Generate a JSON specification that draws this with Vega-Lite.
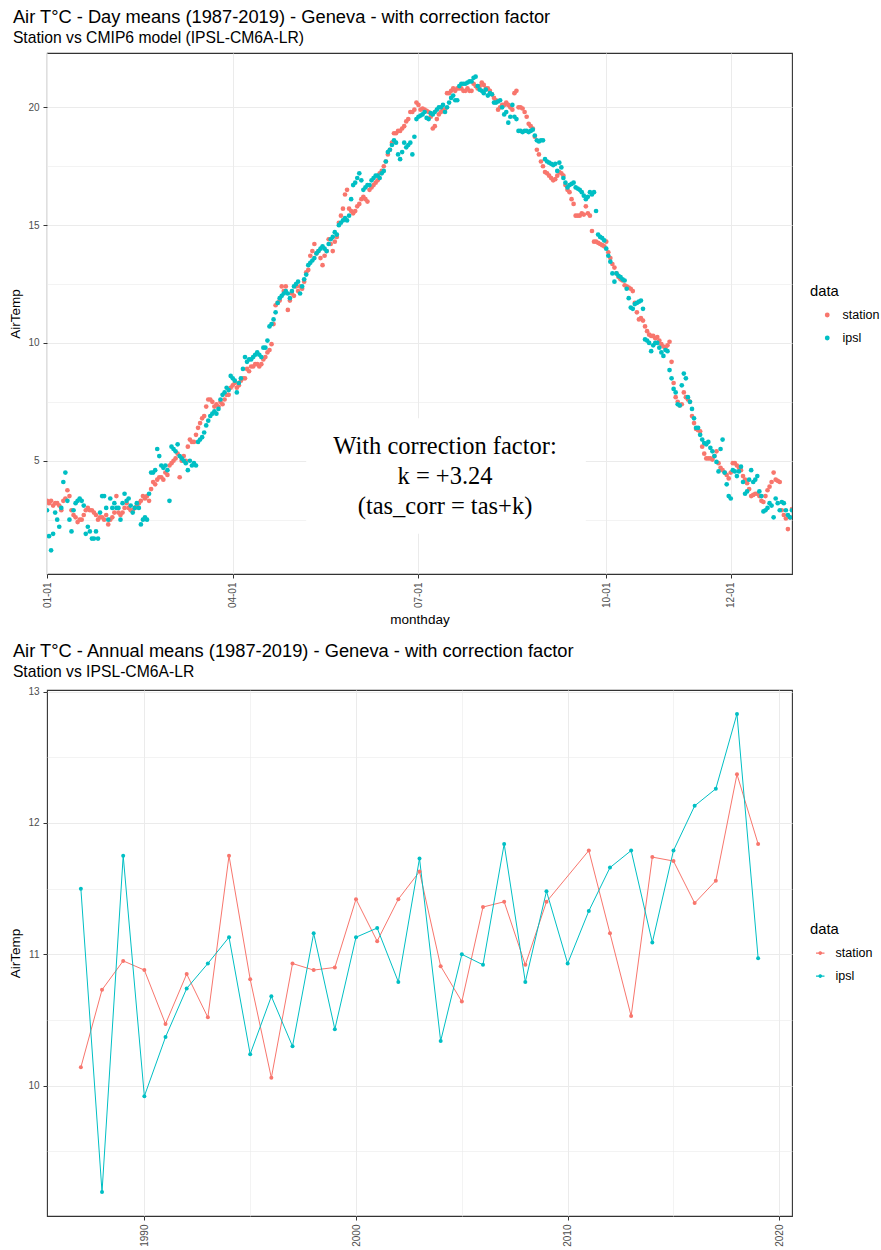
{
  "$schema": "https://vega.github.io/schema/vega-lite/v6.json",
  "background": "white",
  "padding": {"left": 8, "top": 7, "right": 5, "bottom": 5},
  "config": {
    "font": "Liberation Sans",
    "view": {"stroke": "#333333", "strokeWidth": 1.1},
    "axis": {"domain": false, "grid": true, "gridColor": "#EBEBEB", "tickColor": "#333333", "tickSize": 4, "tickWidth": 1, "labelColor": "#4D4D4D", "labelFontSize": 10, "labelPadding": 4, "titleFontSize": 13.5, "titleFontWeight": "normal", "titleColor": "#000000"},
    "title": {"anchor": "start", "frame": "bounds", "fontSize": 18.3, "fontWeight": "normal", "color": "#000000", "subtitleFontSize": 15.7, "subtitleColor": "#000000", "subtitlePadding": 4, "offset": 6, "dx": 4},
    "legend": {"titleFontSize": 14.8, "titleFontWeight": "normal", "titleColor": "#000000", "labelFontSize": 12.5, "labelColor": "#000000", "padding": 0, "rowPadding": 10, "titlePadding": 10},
    "concat": {"spacing": 14}
  },
  "resolve": {"legend": {"color": "independent"}},
  "datasets": {
    "daily": [
{"monthday":"2000-01-01","station":3.3,"ipsl":2.9},{"monthday":"2000-01-02","station":3.2,"ipsl":1.8},{"monthday":"2000-01-03","station":3.3,"ipsl":1.2},{"monthday":"2000-01-04","station":3.1,"ipsl":1.9},{"monthday":"2000-01-05","station":3.2,"ipsl":2.8},{"monthday":"2000-01-06","station":3.2,"ipsl":2.5},{"monthday":"2000-01-07","station":3.1,"ipsl":2.2},{"monthday":"2000-01-08","station":2.9,"ipsl":3.0},{"monthday":"2000-01-09","station":3.3,"ipsl":4.1},{"monthday":"2000-01-10","station":3.4,"ipsl":4.5},
{"monthday":"2000-01-11","station":3.75,"ipsl":3.3},{"monthday":"2000-01-12","station":3.5,"ipsl":2.5},{"monthday":"2000-01-13","station":2.9,"ipsl":2.0},{"monthday":"2000-01-14","station":2.7,"ipsl":2.9},{"monthday":"2000-01-15","station":2.6,"ipsl":3.2},{"monthday":"2000-01-16","station":2.4,"ipsl":3.3},{"monthday":"2000-01-17","station":2.5,"ipsl":3.4},{"monthday":"2000-01-18","station":2.5,"ipsl":3.3},{"monthday":"2000-01-19","station":2.7,"ipsl":3.1},{"monthday":"2000-01-20","station":2.9,"ipsl":1.9},
{"monthday":"2000-01-21","station":3.0,"ipsl":2.2},{"monthday":"2000-01-22","station":2.9,"ipsl":2.0},{"monthday":"2000-01-23","station":2.9,"ipsl":1.7},{"monthday":"2000-01-24","station":2.8,"ipsl":1.7},{"monthday":"2000-01-25","station":2.7,"ipsl":2.0},{"monthday":"2000-01-26","station":2.5,"ipsl":1.7},{"monthday":"2000-01-27","station":2.6,"ipsl":2.8},{"monthday":"2000-01-28","station":2.6,"ipsl":3.5},{"monthday":"2000-01-29","station":2.5,"ipsl":3.5},{"monthday":"2000-01-30","station":2.7,"ipsl":3.0},
{"monthday":"2000-01-31","station":2.3,"ipsl":2.5},
{"monthday":"2000-02-01","station":2.5,"ipsl":3.4},{"monthday":"2000-02-02","station":2.6,"ipsl":3.0},{"monthday":"2000-02-03","station":2.8,"ipsl":3.2},{"monthday":"2000-02-04","station":3.5,"ipsl":3.0},{"monthday":"2000-02-05","station":2.8,"ipsl":3.0},{"monthday":"2000-02-06","station":2.7,"ipsl":2.5},{"monthday":"2000-02-07","station":2.8,"ipsl":3.2},{"monthday":"2000-02-08","station":3.0,"ipsl":3.6},{"monthday":"2000-02-09","station":3.2,"ipsl":3.3},{"monthday":"2000-02-10","station":3.0,"ipsl":3.4},
{"monthday":"2000-02-11","station":2.9,"ipsl":3.1},{"monthday":"2000-02-12","station":2.9,"ipsl":2.8},{"monthday":"2000-02-13","station":3.0,"ipsl":3.0},{"monthday":"2000-02-14","station":3.1,"ipsl":3.2},{"monthday":"2000-02-15","station":3.2,"ipsl":3.0},{"monthday":"2000-02-16","station":3.3,"ipsl":2.3},{"monthday":"2000-02-17","station":3.5,"ipsl":2.5},{"monthday":"2000-02-18","station":3.4,"ipsl":2.6},{"monthday":"2000-02-19","station":3.5,"ipsl":2.5},{"monthday":"2000-02-20","station":3.3,"ipsl":3.6},
{"monthday":"2000-02-21","station":3.8,"ipsl":4.5},{"monthday":"2000-02-22","station":4.1,"ipsl":4.5},{"monthday":"2000-02-23","station":4.0,"ipsl":4.6},{"monthday":"2000-02-24","station":4.2,"ipsl":5.5},{"monthday":"2000-02-25","station":4.3,"ipsl":5.2},{"monthday":"2000-02-26","station":4.3,"ipsl":4.8},{"monthday":"2000-02-27","station":4.2,"ipsl":4.7},{"monthday":"2000-02-28","station":4.5,"ipsl":4.8},{"monthday":"2000-02-29","station":4.4,"ipsl":4.6},
{"monthday":"2000-03-01","station":4.8,"ipsl":3.3},{"monthday":"2000-03-02","station":4.9,"ipsl":5.6},{"monthday":"2000-03-03","station":5.0,"ipsl":5.5},{"monthday":"2000-03-04","station":5.1,"ipsl":5.4},{"monthday":"2000-03-05","station":5.3,"ipsl":5.7},{"monthday":"2000-03-06","station":4.3,"ipsl":5.2},{"monthday":"2000-03-07","station":5.0,"ipsl":5.1},{"monthday":"2000-03-08","station":5.2,"ipsl":5.0},{"monthday":"2000-03-09","station":5.0,"ipsl":4.9},{"monthday":"2000-03-10","station":5.6,"ipsl":4.6},
{"monthday":"2000-03-11","station":5.9,"ipsl":5.0},{"monthday":"2000-03-12","station":5.8,"ipsl":4.8},{"monthday":"2000-03-13","station":5.8,"ipsl":4.9},{"monthday":"2000-03-14","station":6.1,"ipsl":4.8},{"monthday":"2000-03-15","station":6.4,"ipsl":5.8},{"monthday":"2000-03-16","station":6.6,"ipsl":5.9},{"monthday":"2000-03-17","station":6.8,"ipsl":6.0},{"monthday":"2000-03-18","station":6.9,"ipsl":6.2},{"monthday":"2000-03-19","station":7.3,"ipsl":6.5},{"monthday":"2000-03-20","station":7.6,"ipsl":6.7},
{"monthday":"2000-03-21","station":7.6,"ipsl":6.9},{"monthday":"2000-03-22","station":7.5,"ipsl":7.0},{"monthday":"2000-03-23","station":7.3,"ipsl":7.1},{"monthday":"2000-03-24","station":7.4,"ipsl":7.0},{"monthday":"2000-03-25","station":7.3,"ipsl":7.2},{"monthday":"2000-03-26","station":7.5,"ipsl":7.6},{"monthday":"2000-03-27","station":7.4,"ipsl":7.8},{"monthday":"2000-03-28","station":7.6,"ipsl":7.9},{"monthday":"2000-03-29","station":7.8,"ipsl":8.1},{"monthday":"2000-03-30","station":7.8,"ipsl":8.0},
{"monthday":"2000-03-31","station":8.1,"ipsl":8.6},
{"monthday":"2000-04-01","station":8.2,"ipsl":8.5},{"monthday":"2000-04-02","station":8.3,"ipsl":8.4},{"monthday":"2000-04-03","station":8.1,"ipsl":7.9},{"monthday":"2000-04-04","station":8.2,"ipsl":8.3},{"monthday":"2000-04-05","station":8.4,"ipsl":8.5},{"monthday":"2000-04-06","station":8.5,"ipsl":8.9},{"monthday":"2000-04-07","station":8.5,"ipsl":9.4},{"monthday":"2000-04-08","station":8.9,"ipsl":9.2},{"monthday":"2000-04-09","station":8.8,"ipsl":9.3},{"monthday":"2000-04-10","station":9.0,"ipsl":9.3},
{"monthday":"2000-04-11","station":9.0,"ipsl":9.4},{"monthday":"2000-04-12","station":9.1,"ipsl":9.5},{"monthday":"2000-04-13","station":9.1,"ipsl":9.6},{"monthday":"2000-04-14","station":9.0,"ipsl":9.5},{"monthday":"2000-04-15","station":9.1,"ipsl":9.4},{"monthday":"2000-04-16","station":9.3,"ipsl":9.8},{"monthday":"2000-04-17","station":9.4,"ipsl":9.8},{"monthday":"2000-04-18","station":9.6,"ipsl":10.1},{"monthday":"2000-04-19","station":9.7,"ipsl":10.7},{"monthday":"2000-04-20","station":9.95,"ipsl":10.8},
{"monthday":"2000-04-21","station":10.8,"ipsl":11.0},{"monthday":"2000-04-22","station":11.6,"ipsl":11.3},{"monthday":"2000-04-23","station":11.7,"ipsl":11.7},{"monthday":"2000-04-24","station":11.8,"ipsl":11.9},{"monthday":"2000-04-25","station":12.4,"ipsl":12.0},{"monthday":"2000-04-26","station":12.2,"ipsl":12.1},{"monthday":"2000-04-27","station":12.4,"ipsl":12.2},{"monthday":"2000-04-28","station":11.4,"ipsl":12.1},{"monthday":"2000-04-29","station":11.8,"ipsl":11.9},{"monthday":"2000-04-30","station":12.1,"ipsl":12.2},
{"monthday":"2000-05-01","station":12.0,"ipsl":12.4},{"monthday":"2000-05-02","station":12.4,"ipsl":12.5},{"monthday":"2000-05-03","station":12.2,"ipsl":12.6},{"monthday":"2000-05-04","station":12.4,"ipsl":12.1},{"monthday":"2000-05-05","station":12.3,"ipsl":12.4},{"monthday":"2000-05-06","station":12.6,"ipsl":12.7},{"monthday":"2000-05-07","station":13.0,"ipsl":12.9},{"monthday":"2000-05-08","station":13.1,"ipsl":13.3},{"monthday":"2000-05-09","station":13.7,"ipsl":13.4},{"monthday":"2000-05-10","station":13.9,"ipsl":13.5},
{"monthday":"2000-05-11","station":14.2,"ipsl":13.6},{"monthday":"2000-05-12","station":13.8,"ipsl":13.8},{"monthday":"2000-05-13","station":13.9,"ipsl":13.9},{"monthday":"2000-05-14","station":13.6,"ipsl":14.0},{"monthday":"2000-05-15","station":13.3,"ipsl":14.1},{"monthday":"2000-05-16","station":13.7,"ipsl":14.0},{"monthday":"2000-05-17","station":13.9,"ipsl":13.9},{"monthday":"2000-05-18","station":14.4,"ipsl":14.2},{"monthday":"2000-05-19","station":14.2,"ipsl":14.4},{"monthday":"2000-05-20","station":13.9,"ipsl":14.5},
{"monthday":"2000-05-21","station":14.3,"ipsl":14.7},{"monthday":"2000-05-22","station":14.5,"ipsl":14.6},{"monthday":"2000-05-23","station":15.1,"ipsl":15.0},{"monthday":"2000-05-24","station":15.4,"ipsl":15.1},{"monthday":"2000-05-25","station":15.7,"ipsl":15.2},{"monthday":"2000-05-26","station":16.3,"ipsl":15.3},{"monthday":"2000-05-27","station":16.5,"ipsl":15.2},{"monthday":"2000-05-28","station":15.7,"ipsl":15.4},{"monthday":"2000-05-29","station":15.6,"ipsl":16.1},{"monthday":"2000-05-30","station":15.5,"ipsl":16.7},
{"monthday":"2000-05-31","station":15.6,"ipsl":16.8},
{"monthday":"2000-06-01","station":15.8,"ipsl":17.0},{"monthday":"2000-06-02","station":15.9,"ipsl":17.2},{"monthday":"2000-06-03","station":16.1,"ipsl":16.9},{"monthday":"2000-06-04","station":16.2,"ipsl":16.5},{"monthday":"2000-06-05","station":16.1,"ipsl":16.6},{"monthday":"2000-06-06","station":16.0,"ipsl":16.7},{"monthday":"2000-06-07","station":16.5,"ipsl":16.7},{"monthday":"2000-06-08","station":16.6,"ipsl":16.9},{"monthday":"2000-06-09","station":16.7,"ipsl":17.0},{"monthday":"2000-06-10","station":16.8,"ipsl":17.1},
{"monthday":"2000-06-11","station":16.9,"ipsl":17.1},{"monthday":"2000-06-12","station":17.2,"ipsl":17.0},{"monthday":"2000-06-13","station":17.3,"ipsl":17.2},{"monthday":"2000-06-14","station":17.5,"ipsl":17.3},{"monthday":"2000-06-15","station":17.7,"ipsl":17.7},{"monthday":"2000-06-16","station":18.0,"ipsl":18.1},{"monthday":"2000-06-17","station":18.2,"ipsl":18.2},{"monthday":"2000-06-18","station":18.5,"ipsl":18.4},{"monthday":"2000-06-19","station":18.9,"ipsl":18.6},{"monthday":"2000-06-20","station":18.9,"ipsl":18.5},
{"monthday":"2000-06-21","station":19.0,"ipsl":18.0},{"monthday":"2000-06-22","station":19.0,"ipsl":17.8},{"monthday":"2000-06-23","station":19.1,"ipsl":18.1},{"monthday":"2000-06-24","station":19.2,"ipsl":18.5},{"monthday":"2000-06-25","station":19.4,"ipsl":18.3},{"monthday":"2000-06-26","station":19.5,"ipsl":18.4},{"monthday":"2000-06-27","station":19.8,"ipsl":18.5},{"monthday":"2000-06-28","station":19.8,"ipsl":18.0},{"monthday":"2000-06-29","station":19.9,"ipsl":18.75},{"monthday":"2000-06-30","station":20.2,"ipsl":19.5},
{"monthday":"2000-07-01","station":20.1,"ipsl":19.6},{"monthday":"2000-07-02","station":19.9,"ipsl":19.65},{"monthday":"2000-07-03","station":19.95,"ipsl":19.7},{"monthday":"2000-07-04","station":19.9,"ipsl":19.8},{"monthday":"2000-07-05","station":19.85,"ipsl":19.55},{"monthday":"2000-07-06","station":19.8,"ipsl":19.5},{"monthday":"2000-07-07","station":19.6,"ipsl":19.75},{"monthday":"2000-07-08","station":19.1,"ipsl":19.7},{"monthday":"2000-07-09","station":19.2,"ipsl":19.8},{"monthday":"2000-07-10","station":19.5,"ipsl":19.9},
{"monthday":"2000-07-11","station":19.7,"ipsl":20.0},{"monthday":"2000-07-12","station":19.8,"ipsl":20.0},{"monthday":"2000-07-13","station":19.9,"ipsl":20.1},{"monthday":"2000-07-14","station":19.9,"ipsl":19.8},{"monthday":"2000-07-15","station":20.6,"ipsl":20.0},{"monthday":"2000-07-16","station":20.6,"ipsl":20.2},{"monthday":"2000-07-17","station":20.7,"ipsl":20.4},{"monthday":"2000-07-18","station":20.8,"ipsl":20.5},{"monthday":"2000-07-19","station":20.7,"ipsl":20.3},{"monthday":"2000-07-20","station":20.8,"ipsl":20.3},
{"monthday":"2000-07-21","station":20.8,"ipsl":20.9},{"monthday":"2000-07-22","station":20.8,"ipsl":21.0},{"monthday":"2000-07-23","station":20.7,"ipsl":21.0},{"monthday":"2000-07-24","station":20.7,"ipsl":21.0},{"monthday":"2000-07-25","station":20.8,"ipsl":21.05},{"monthday":"2000-07-26","station":20.7,"ipsl":21.1},{"monthday":"2000-07-27","station":20.7,"ipsl":21.1},{"monthday":"2000-07-28","station":21.0,"ipsl":21.25},{"monthday":"2000-07-29","station":20.9,"ipsl":21.3},{"monthday":"2000-07-30","station":20.8,"ipsl":20.9},
{"monthday":"2000-07-31","station":20.9,"ipsl":20.75},
{"monthday":"2000-08-01","station":21.05,"ipsl":20.7},{"monthday":"2000-08-02","station":20.95,"ipsl":20.6},{"monthday":"2000-08-03","station":20.8,"ipsl":20.75},{"monthday":"2000-08-04","station":20.8,"ipsl":20.5},{"monthday":"2000-08-05","station":20.7,"ipsl":20.6},{"monthday":"2000-08-06","station":20.55,"ipsl":20.55},{"monthday":"2000-08-07","station":20.4,"ipsl":20.2},{"monthday":"2000-08-08","station":20.3,"ipsl":20.2},{"monthday":"2000-08-09","station":19.9,"ipsl":20.25},{"monthday":"2000-08-10","station":20.0,"ipsl":20.3},
{"monthday":"2000-08-11","station":20.1,"ipsl":20.0},{"monthday":"2000-08-12","station":20.1,"ipsl":19.7},{"monthday":"2000-08-13","station":20.2,"ipsl":19.8},{"monthday":"2000-08-14","station":20.1,"ipsl":19.35},{"monthday":"2000-08-15","station":20.0,"ipsl":19.6},{"monthday":"2000-08-16","station":19.9,"ipsl":20.1},{"monthday":"2000-08-17","station":20.6,"ipsl":19.6},{"monthday":"2000-08-18","station":20.7,"ipsl":19.5},{"monthday":"2000-08-19","station":20.0,"ipsl":19.0},{"monthday":"2000-08-20","station":20.0,"ipsl":19.0},
{"monthday":"2000-08-21","station":19.95,"ipsl":18.95},{"monthday":"2000-08-22","station":19.8,"ipsl":19.0},{"monthday":"2000-08-23","station":19.6,"ipsl":19.0},{"monthday":"2000-08-24","station":19.3,"ipsl":18.95},{"monthday":"2000-08-25","station":19.2,"ipsl":19.0},{"monthday":"2000-08-26","station":19.1,"ipsl":19.05},{"monthday":"2000-08-27","station":18.75,"ipsl":18.8},{"monthday":"2000-08-28","station":18.2,"ipsl":18.6},{"monthday":"2000-08-29","station":18.0,"ipsl":18.55},{"monthday":"2000-08-30","station":17.7,"ipsl":18.6},
{"monthday":"2000-08-31","station":17.5,"ipsl":18.6},
{"monthday":"2000-09-01","station":17.25,"ipsl":17.8},{"monthday":"2000-09-02","station":17.2,"ipsl":17.7},{"monthday":"2000-09-03","station":17.1,"ipsl":17.65},{"monthday":"2000-09-04","station":17.0,"ipsl":17.6},{"monthday":"2000-09-05","station":16.9,"ipsl":17.55},{"monthday":"2000-09-06","station":16.95,"ipsl":17.6},{"monthday":"2000-09-07","station":17.1,"ipsl":17.3},{"monthday":"2000-09-08","station":17.25,"ipsl":17.65},{"monthday":"2000-09-09","station":17.2,"ipsl":17.45},{"monthday":"2000-09-10","station":17.1,"ipsl":17.0},
{"monthday":"2000-09-11","station":16.7,"ipsl":16.8},{"monthday":"2000-09-12","station":16.5,"ipsl":16.6},{"monthday":"2000-09-13","station":16.4,"ipsl":16.7},{"monthday":"2000-09-14","station":16.1,"ipsl":16.75},{"monthday":"2000-09-15","station":15.9,"ipsl":16.8},{"monthday":"2000-09-16","station":15.4,"ipsl":16.6},{"monthday":"2000-09-17","station":15.4,"ipsl":16.55},{"monthday":"2000-09-18","station":15.4,"ipsl":16.5},{"monthday":"2000-09-19","station":15.5,"ipsl":16.4},{"monthday":"2000-09-20","station":15.45,"ipsl":16.25},
{"monthday":"2000-09-21","station":15.8,"ipsl":16.1},{"monthday":"2000-09-22","station":15.5,"ipsl":16.2},{"monthday":"2000-09-23","station":15.4,"ipsl":16.4},{"monthday":"2000-09-24","station":14.75,"ipsl":16.3},{"monthday":"2000-09-25","station":14.3,"ipsl":16.4},{"monthday":"2000-09-26","station":14.3,"ipsl":15.6},{"monthday":"2000-09-27","station":14.25,"ipsl":14.6},{"monthday":"2000-09-28","station":14.2,"ipsl":14.5},{"monthday":"2000-09-29","station":14.15,"ipsl":14.45},{"monthday":"2000-09-30","station":14.1,"ipsl":14.35},
{"monthday":"2000-10-01","station":14.3,"ipsl":14.0},{"monthday":"2000-10-02","station":13.85,"ipsl":13.7},{"monthday":"2000-10-03","station":13.6,"ipsl":13.45},{"monthday":"2000-10-04","station":13.35,"ipsl":12.95},{"monthday":"2000-10-05","station":13.2,"ipsl":12.6},{"monthday":"2000-10-06","station":12.95,"ipsl":12.95},{"monthday":"2000-10-07","station":12.8,"ipsl":12.85},{"monthday":"2000-10-08","station":12.7,"ipsl":12.8},{"monthday":"2000-10-09","station":12.65,"ipsl":12.7},{"monthday":"2000-10-10","station":12.45,"ipsl":12.65},
{"monthday":"2000-10-11","station":12.4,"ipsl":12.3},{"monthday":"2000-10-12","station":12.35,"ipsl":11.9},{"monthday":"2000-10-13","station":12.3,"ipsl":11.5},{"monthday":"2000-10-14","station":12.2,"ipsl":11.45},{"monthday":"2000-10-15","station":11.7,"ipsl":11.65},{"monthday":"2000-10-16","station":11.3,"ipsl":11.7},{"monthday":"2000-10-17","station":11.0,"ipsl":11.75},{"monthday":"2000-10-18","station":11.05,"ipsl":11.8},{"monthday":"2000-10-19","station":10.95,"ipsl":11.45},{"monthday":"2000-10-20","station":10.7,"ipsl":10.15},
{"monthday":"2000-10-21","station":10.5,"ipsl":10.1},{"monthday":"2000-10-22","station":10.35,"ipsl":10.0},{"monthday":"2000-10-23","station":10.3,"ipsl":9.65},{"monthday":"2000-10-24","station":10.3,"ipsl":9.9},{"monthday":"2000-10-25","station":10.2,"ipsl":10.0},{"monthday":"2000-10-26","station":10.25,"ipsl":10.0},{"monthday":"2000-10-27","station":10.1,"ipsl":9.8},{"monthday":"2000-10-28","station":9.95,"ipsl":9.6},{"monthday":"2000-10-29","station":9.85,"ipsl":9.45},{"monthday":"2000-10-30","station":9.8,"ipsl":9.7},
{"monthday":"2000-10-31","station":9.9,"ipsl":9.65},
{"monthday":"2000-11-01","station":10.05,"ipsl":8.85},{"monthday":"2000-11-02","station":9.2,"ipsl":8.5},{"monthday":"2000-11-03","station":8.3,"ipsl":8.05},{"monthday":"2000-11-04","station":7.7,"ipsl":7.9},{"monthday":"2000-11-05","station":7.5,"ipsl":7.4},{"monthday":"2000-11-06","station":7.35,"ipsl":7.35},{"monthday":"2000-11-07","station":7.4,"ipsl":8.2},{"monthday":"2000-11-08","station":7.9,"ipsl":8.7},{"monthday":"2000-11-09","station":7.7,"ipsl":8.5},{"monthday":"2000-11-10","station":7.6,"ipsl":7.7},
{"monthday":"2000-11-11","station":7.5,"ipsl":7.5},{"monthday":"2000-11-12","station":6.9,"ipsl":7.2},{"monthday":"2000-11-13","station":6.6,"ipsl":6.8},{"monthday":"2000-11-14","station":6.35,"ipsl":6.4},{"monthday":"2000-11-15","station":6.3,"ipsl":6.4},{"monthday":"2000-11-16","station":6.25,"ipsl":6.1},{"monthday":"2000-11-17","station":5.6,"ipsl":5.9},{"monthday":"2000-11-18","station":5.3,"ipsl":5.75},{"monthday":"2000-11-19","station":5.1,"ipsl":5.7},{"monthday":"2000-11-20","station":5.1,"ipsl":5.8},
{"monthday":"2000-11-21","station":5.1,"ipsl":5.55},{"monthday":"2000-11-22","station":5.05,"ipsl":5.4},{"monthday":"2000-11-23","station":5.2,"ipsl":5.2},{"monthday":"2000-11-24","station":5.4,"ipsl":4.95},{"monthday":"2000-11-25","station":4.9,"ipsl":4.55},{"monthday":"2000-11-26","station":4.7,"ipsl":5.5},{"monthday":"2000-11-27","station":4.6,"ipsl":5.9},{"monthday":"2000-11-28","station":4.5,"ipsl":4.5},{"monthday":"2000-11-29","station":4.4,"ipsl":4.0},{"monthday":"2000-11-30","station":4.25,"ipsl":3.5},
{"monthday":"2000-12-01","station":4.5,"ipsl":3.4},{"monthday":"2000-12-02","station":4.9,"ipsl":4.6},{"monthday":"2000-12-03","station":4.9,"ipsl":4.55},{"monthday":"2000-12-04","station":4.8,"ipsl":4.35},{"monthday":"2000-12-05","station":4.7,"ipsl":4.55},{"monthday":"2000-12-06","station":4.6,"ipsl":4.75},{"monthday":"2000-12-07","station":4.35,"ipsl":4.1},{"monthday":"2000-12-08","station":4.2,"ipsl":3.6},{"monthday":"2000-12-09","station":4.05,"ipsl":3.7},{"monthday":"2000-12-10","station":3.8,"ipsl":4.2},
{"monthday":"2000-12-11","station":3.5,"ipsl":4.6},{"monthday":"2000-12-12","station":3.55,"ipsl":4.1},{"monthday":"2000-12-13","station":3.6,"ipsl":4.2},{"monthday":"2000-12-14","station":3.6,"ipsl":4.35},{"monthday":"2000-12-15","station":3.5,"ipsl":3.7},{"monthday":"2000-12-16","station":3.3,"ipsl":3.5},{"monthday":"2000-12-17","station":3.25,"ipsl":2.85},{"monthday":"2000-12-18","station":3.5,"ipsl":2.9},{"monthday":"2000-12-19","station":3.75,"ipsl":3.0},{"monthday":"2000-12-20","station":3.9,"ipsl":3.2},
{"monthday":"2000-12-21","station":4.1,"ipsl":3.1},{"monthday":"2000-12-22","station":4.5,"ipsl":2.6},{"monthday":"2000-12-23","station":4.2,"ipsl":3.4},{"monthday":"2000-12-24","station":4.15,"ipsl":3.2},{"monthday":"2000-12-25","station":4.1,"ipsl":2.9},{"monthday":"2000-12-26","station":2.9,"ipsl":3.25},{"monthday":"2000-12-27","station":2.7,"ipsl":3.2},{"monthday":"2000-12-28","station":2.55,"ipsl":2.9},{"monthday":"2000-12-29","station":2.1,"ipsl":2.7},{"monthday":"2000-12-30","station":2.6,"ipsl":2.6},
{"monthday":"2000-12-31","station":2.95,"ipsl":2.9}
    ],
    "annual": [
      {"year":1987,"station":10.14,"ipsl":11.50},{"year":1988,"station":10.73,"ipsl":9.19},{"year":1989,"station":10.95,"ipsl":11.75},{"year":1990,"station":10.88,"ipsl":9.92},
      {"year":1991,"station":10.47,"ipsl":10.37},{"year":1992,"station":10.85,"ipsl":10.74},{"year":1993,"station":10.52,"ipsl":10.93},{"year":1994,"station":11.75,"ipsl":11.13},
      {"year":1995,"station":10.81,"ipsl":10.24},{"year":1996,"station":10.06,"ipsl":10.68},{"year":1997,"station":10.93,"ipsl":10.30},{"year":1998,"station":10.88,"ipsl":11.16},
      {"year":1999,"station":10.90,"ipsl":10.43},{"year":2000,"station":11.42,"ipsl":11.13},{"year":2001,"station":11.10,"ipsl":11.20},{"year":2002,"station":11.42,"ipsl":10.79},
      {"year":2003,"station":11.63,"ipsl":11.73},{"year":2004,"station":10.91,"ipsl":10.34},{"year":2005,"station":10.64,"ipsl":11.00},{"year":2006,"station":11.36,"ipsl":10.92},
      {"year":2007,"station":11.40,"ipsl":11.84},{"year":2008,"station":10.92,"ipsl":10.79},{"year":2009,"station":11.40,"ipsl":11.48},{"year":2010,"ipsl":10.93},
      {"year":2011,"station":11.79,"ipsl":11.33},{"year":2012,"station":11.16,"ipsl":11.66},{"year":2013,"station":10.53,"ipsl":11.79},{"year":2014,"station":11.74,"ipsl":11.09},
      {"year":2015,"station":11.71,"ipsl":11.79},{"year":2016,"station":11.39,"ipsl":12.13},{"year":2017,"station":11.56,"ipsl":12.26},{"year":2018,"station":12.37,"ipsl":12.83},
      {"year":2019,"station":11.84,"ipsl":10.97}
    ]
  },
  "vconcat": [
    {
      "title": {"text": "Air T°C - Day means (1987-2019) - Geneva - with correction factor", "subtitle": "Station vs CMIP6 model (IPSL-CM6A-LR)"},
      "width": 745,
      "height": 521,
      "layer": [
        {
          "data": {"name": "daily"},
          "transform": [{"fold": ["station", "ipsl"], "as": ["data", "AirTemp"]}, {"filter": {"field": "data", "equal": "station"}}],
          "mark": {"type": "point", "filled": true, "size": 22, "opacity": 1, "clip": true},
          "encoding": {
            "x": {"field": "monthday", "type": "temporal", "title": "monthday",
              "scale": {"type": "utc", "domain": [{"year": 2000, "month": 1, "date": 1, "utc": true}, {"year": 2000, "month": 12, "date": 31, "utc": true}]},
              "axis": {"values": [{"year": 2000, "month": 1, "date": 1, "utc": true}, {"year": 2000, "month": 4, "date": 1, "utc": true}, {"year": 2000, "month": 7, "date": 1, "utc": true}, {"year": 2000, "month": 10, "date": 1, "utc": true}, {"year": 2000, "month": 12, "date": 1, "utc": true}], "labelExpr": "utcFormat(datum.value, '%m-%d')", "labelAngle": 270, "gridWidth": 1, "titlePadding": 5}},
            "y": {"field": "AirTemp", "type": "quantitative", "title": "AirTemp",
              "scale": {"domain": [0.195, 22.305], "nice": false, "zero": false},
              "axis": {"values": [2.5, 5, 7.5, 10, 12.5, 15, 17.5, 20], "labelExpr": "datum.value % 5 === 0 ? format(datum.value, 'd') : ''",
                "gridWidth": {"condition": {"test": "datum.value % 5 === 0", "value": 1}, "value": 0.6},
                "tickOpacity": {"condition": {"test": "datum.value % 5 === 0", "value": 1}, "value": 0}, "titlePadding": 5}},
            "color": {"field": "data", "type": "nominal", "scale": {"domain": ["station", "ipsl"], "range": ["#F8766D", "#00BFC4"]},
              "legend": {"title": "data", "orient": "none", "legendX": 763, "legendY": 231, "symbolType": "circle", "symbolSize": 24, "symbolOffset": 11, "labelOffset": 9}}
          }
        },
        {
          "data": {"name": "daily"},
          "transform": [{"fold": ["station", "ipsl"], "as": ["data", "AirTemp"]}, {"filter": {"field": "data", "equal": "ipsl"}}],
          "mark": {"type": "point", "filled": true, "size": 22, "opacity": 1, "clip": true},
          "encoding": {
            "x": {"field": "monthday", "type": "temporal", "title": "monthday",
              "scale": {"type": "utc", "domain": [{"year": 2000, "month": 1, "date": 1, "utc": true}, {"year": 2000, "month": 12, "date": 31, "utc": true}]},
              "axis": {"values": [{"year": 2000, "month": 1, "date": 1, "utc": true}, {"year": 2000, "month": 4, "date": 1, "utc": true}, {"year": 2000, "month": 7, "date": 1, "utc": true}, {"year": 2000, "month": 10, "date": 1, "utc": true}, {"year": 2000, "month": 12, "date": 1, "utc": true}], "labelExpr": "utcFormat(datum.value, '%m-%d')", "labelAngle": 270, "gridWidth": 1, "titlePadding": 5}},
            "y": {"field": "AirTemp", "type": "quantitative", "title": "AirTemp",
              "scale": {"domain": [0.195, 22.305], "nice": false, "zero": false},
              "axis": {"values": [2.5, 5, 7.5, 10, 12.5, 15, 17.5, 20], "labelExpr": "datum.value % 5 === 0 ? format(datum.value, 'd') : ''",
                "gridWidth": {"condition": {"test": "datum.value % 5 === 0", "value": 1}, "value": 0.6},
                "tickOpacity": {"condition": {"test": "datum.value % 5 === 0", "value": 1}, "value": 0}, "titlePadding": 5}},
            "color": {"field": "data", "type": "nominal", "scale": {"domain": ["station", "ipsl"], "range": ["#F8766D", "#00BFC4"]},
              "legend": {"title": "data", "orient": "none", "legendX": 763, "legendY": 231, "symbolType": "circle", "symbolSize": 24, "symbolOffset": 11, "labelOffset": 9}}
          }
        },
        {
          "data": {"values": [{}]},
          "mark": {"type": "rect", "color": "white", "opacity": 1},
          "encoding": {
            "x": {"datum": {"year": 2000, "month": 5, "date": 7, "utc": true}, "type": "temporal", "title": "monthday"},
            "x2": {"datum": {"year": 2000, "month": 9, "date": 21, "utc": true}},
            "y": {"datum": 1.9, "type": "quantitative", "title": "AirTemp"},
            "y2": {"datum": 6.8}
          }
        },
        {
          "data": {"values": [{}]},
          "mark": {"type": "text", "font": "Liberation Serif", "fontSize": 24.5, "lineHeight": 30, "align": "center", "baseline": "middle", "color": "#000000",
            "text": ["With correction factor:", "k = +3.24", "(tas_corr = tas+k)"]},
          "encoding": {
            "x": {"datum": {"year": 2000, "month": 7, "date": 14, "utc": true}, "type": "temporal", "title": "monthday"},
            "y": {"datum": 5.6, "type": "quantitative", "title": "AirTemp"}
          }
        }
      ]
    },
    {
      "title": {"text": "Air T°C - Annual means (1987-2019) - Geneva - with correction factor", "subtitle": "Station vs IPSL-CM6A-LR"},
      "width": 745,
      "height": 526,
      "data": {"name": "annual"},
      "transform": [{"fold": ["station", "ipsl"], "as": ["data", "AirTemp"]}, {"filter": {"field": "AirTemp", "valid": true}}],
      "encoding": {
        "x": {"field": "year", "type": "quantitative", "title": null,
          "scale": {"domain": [1985.4, 2020.6], "nice": false, "zero": false},
          "axis": {"values": [1990, 1995, 2000, 2005, 2010, 2015, 2020], "labelAngle": 270,
            "labelExpr": "datum.value % 10 === 0 ? format(datum.value, 'd') : ''",
            "gridWidth": {"condition": {"test": "datum.value % 10 === 0", "value": 1}, "value": 0.6},
            "tickOpacity": {"condition": {"test": "datum.value % 10 === 0", "value": 1}, "value": 0}}},
        "y": {"field": "AirTemp", "type": "quantitative", "title": "AirTemp",
          "scale": {"domain": [9.008, 13.012], "nice": false, "zero": false},
          "axis": {"values": [9.5, 10, 10.5, 11, 11.5, 12, 12.5, 13], "labelExpr": "datum.value % 1 === 0 ? format(datum.value, 'd') : ''",
            "gridWidth": {"condition": {"test": "datum.value % 1 === 0", "value": 1}, "value": 0.6},
            "tickOpacity": {"condition": {"test": "datum.value % 1 === 0", "value": 1}, "value": 0}, "titlePadding": 5}},
        "color": {"field": "data", "type": "nominal", "scale": {"domain": ["station", "ipsl"], "range": ["#F8766D", "#00BFC4"]},
          "legend": {"title": "data", "orient": "none", "legendX": 763, "legendY": 232,
            "symbolType": "M-1,0L1,0M0.3,0A0.3,0.3,0,1,1,-0.3,0A0.3,0.3,0,1,1,0.3,0Z", "symbolSize": 72, "symbolOffset": 4, "labelOffset": 9,
            "encode": {"symbols": {"update": {"fill": {"scale": "color", "field": "value"}, "stroke": {"scale": "color", "field": "value"}, "strokeWidth": {"value": 1.2}, "opacity": {"value": 1}}}}}}
      },
      "layer": [
        {"mark": {"type": "line", "strokeWidth": 1}},
        {"mark": {"type": "point", "filled": true, "size": 16, "opacity": 1}}
      ]
    }
  ]
}
